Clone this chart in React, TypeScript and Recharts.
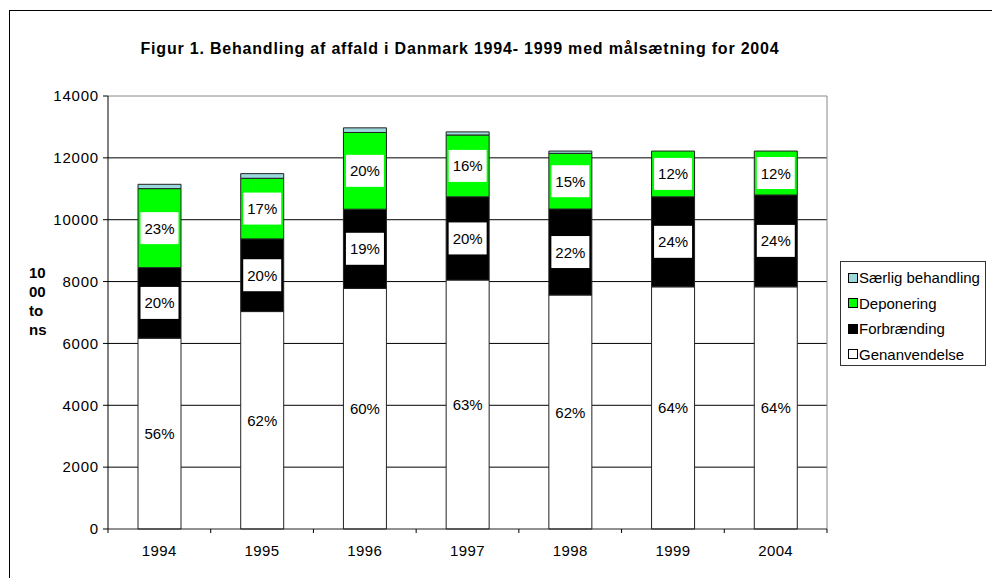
import {
  BarChart,
  Bar,
  XAxis,
  YAxis,
  CartesianGrid,
  LabelList,
  ReferenceLine,
} from "recharts";

const FONT = '"Liberation Sans", Arial, Helvetica, sans-serif';

// Årstal på x-aksen
const years = ["1994", "1995", "1996", "1997", "1998", "1999", "2004"];

// Mængder i 1000 tons
const genanvendelse = [6170, 7030, 7780, 8050, 7565, 7830, 7830];
const forbraending = [2280, 2350, 2560, 2690, 2780, 2910, 2970];
const deponering = [2555, 1960, 2480, 2000, 1800, 1480, 1420];
const saerlig = [140, 150, 150, 100, 75, 0, 0];

// Procentsatserne der står på søjlerne
const genPct = [56, 62, 60, 63, 62, 64, 64];
const forbPct = [20, 20, 19, 20, 22, 24, 24];
const depPct = [23, 17, 20, 16, 15, 12, 12];

const yTicks = [0, 2000, 4000, 6000, 8000, 10000, 12000, 14000];
const gridValues = [2000, 4000, 6000, 8000, 10000, 12000];

const series = [
  { key: "gen", name: "Genanvendelse", color: "#FFFFFF", pct: "genPct" },
  { key: "forb", name: "Forbrænding", color: "#000000", pct: "forbPct" },
  { key: "dep", name: "Deponering", color: "#00FF00", pct: "depPct" },
  { key: "saer", name: "Særlig behandling", color: "#9AD8DC", pct: null },
];

const data = years.map((year, i) => ({
  year,
  gen: genanvendelse[i],
  forb: forbraending[i],
  dep: deponering[i],
  saer: saerlig[i],
  genPct: genPct[i],
  forbPct: forbPct[i],
  depPct: depPct[i],
}));

const TICK_GAP = 16; // tickSize + tickMargin på x-aksen

// hvid boks med procenttal midt i segmentet
const BoxLabel = (props: any) => {
  const x = Number(props.x);
  const y = Number(props.y);
  const w = Number(props.width);
  const h = Number(props.height);
  const cx = x + w / 2;
  const cy = y + h / 2;
  return (
    <g>
      <rect x={cx - 19} y={cy - 16} width={38} height={32} fill="#fff" />
      <text
        x={cx}
        y={cy}
        textAnchor="middle"
        dominantBaseline="central"
        fontSize={15}
        fontFamily={FONT}
        fill="#000"
      >
        {props.value}%
      </text>
    </g>
  );
};

// årstal + små streger mellem kategorierne (som i Excel)
const YearTick = (props: any) => {
  const { x, y, payload, index, visibleTicksCount } = props;
  const half = Number(payload?.offset ?? 0);
  const axisY = y - TICK_GAP;
  const last = index === visibleTicksCount - 1;
  return (
    <g>
      <line x1={x - half} x2={x - half} y1={axisY} y2={axisY + 4} stroke="#000" />
      {last && (
        <line x1={x + half} x2={x + half} y1={axisY} y2={axisY + 4} stroke="#000" />
      )}
      <text
        x={x}
        y={y}
        dy="0.71em"
        textAnchor="middle"
        fontSize={15}
        fontFamily={FONT}
        fill="#000"
        letterSpacing={0.4}
      >
        {payload.value}
      </text>
    </g>
  );
};

export default function App() {
  return (
    <div
      style={{
        position: "absolute",
        left: 0,
        top: 0,
        width: 992,
        height: 578,
        overflow: "hidden",
        background: "#fff",
        fontFamily: FONT,
      }}
    >
      {/* ydre ramme */}
      <div
        style={{
          position: "absolute",
          left: 9,
          top: 10,
          width: 1000,
          height: 600,
          border: "1px solid #000",
        }}
      />

      <div
        style={{
          position: "absolute",
          left: 0,
          right: 0,
          top: 39,
          textAlign: "center",
          paddingRight: 72,
          fontSize: 16,
          fontWeight: "bold",
          lineHeight: "20px",
          letterSpacing: 0.8,
        }}
      >
        Figur 1. Behandling af affald i Danmark 1994- 1999 med målsætning for 2004
      </div>

      <div
        style={{
          position: "absolute",
          left: 29,
          top: 263,
          fontSize: 15,
          fontWeight: "bold",
          lineHeight: "19px",
        }}
      >
        10
        <br />
        00
        <br />
        to
        <br />
        ns
      </div>

      <div style={{ position: "absolute", left: 0, top: 0 }}>
        <BarChart
          width={992}
          height={578}
          data={data}
          margin={{ top: 96, right: 165, bottom: 19, left: 48 }}
          barSize={43}
        >
          <CartesianGrid
            vertical={false}
            stroke="#000"
            horizontalValues={gridValues}
          />
          {/* grå højrekant af plotområdet */}
          <CartesianGrid
            horizontal={false}
            stroke="#888"
            verticalCoordinatesGenerator={({ offset }: any) => [
              offset.left + offset.width,
            ]}
          />
          <XAxis
            dataKey="year"
            height={30}
            axisLine={{ stroke: "#222" }}
            tickLine={false}
            tickSize={8}
            tickMargin={8}
            tick={<YearTick />}
          />
          <YAxis
            width={60}
            domain={[0, 14000]}
            ticks={yTicks}
            axisLine={{ stroke: "#000" }}
            tickLine={{ stroke: "#000" }}
            tickSize={5}
            tickMargin={4}
            tick={{ fill: "#000", fontSize: 15, fontFamily: FONT, letterSpacing: 0.8 }}
          />
          <ReferenceLine y={14000} stroke="#888" />
          {series.map((s) => (
            <Bar
              key={s.key}
              dataKey={s.key}
              name={s.name}
              stackId="a"
              fill={s.color}
              stroke="#222"
              strokeWidth={1}
              isAnimationActive={false}
            >
              {s.pct && <LabelList dataKey={s.pct} content={BoxLabel} />}
            </Bar>
          ))}
        </BarChart>
      </div>

      {/* forklaring */}
      <div
        style={{
          position: "absolute",
          left: 840,
          top: 261,
          width: 146,
          height: 105,
          border: "1px solid #333",
          boxSizing: "border-box",
          paddingTop: 3,
          fontSize: 15,
        }}
      >
        {[...series].reverse().map((s) => (
          <div
            key={s.key}
            style={{
              display: "flex",
              alignItems: "center",
              height: 25.5,
              paddingLeft: 7,
            }}
          >
            <span
              style={{
                display: "inline-block",
                width: 8,
                height: 8,
                background: s.color,
                border: "1px solid #000",
                marginRight: 1,
              }}
            />
            <span style={{ whiteSpace: "nowrap" }}>{s.name}</span>
          </div>
        ))}
      </div>
    </div>
  );
}
